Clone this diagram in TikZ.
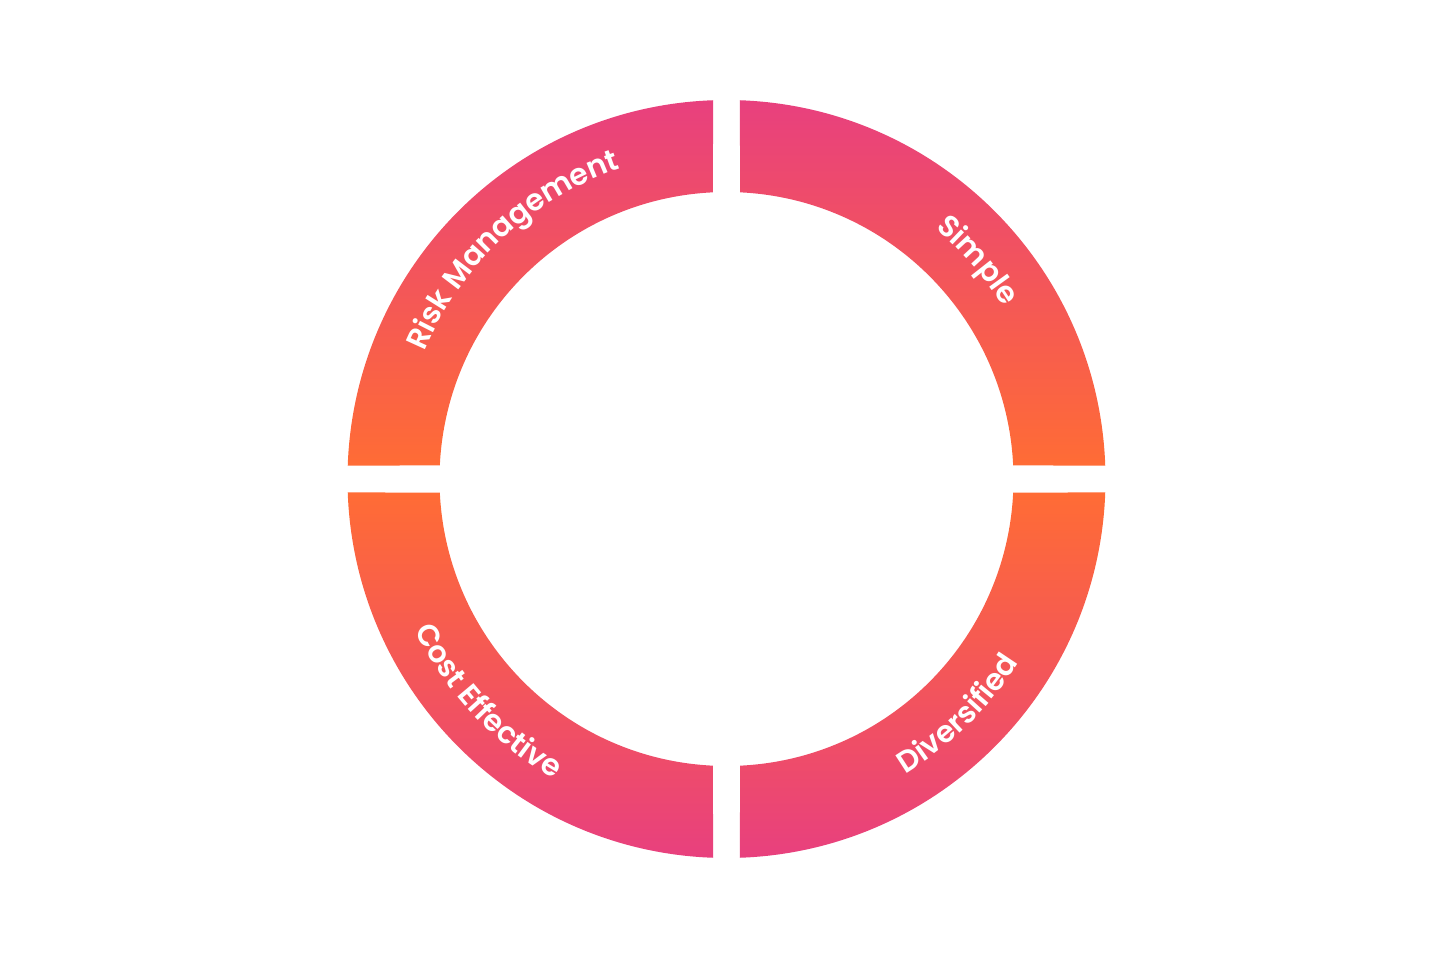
\documentclass[tikz,border=0pt]{standalone}
\usepackage{fontspec}
\setmainfont{Poppins}[BoldFont={* SemiBold}]
\usetikzlibrary{decorations.text}
\definecolor{segpink}{HTML}{E8407E}
\definecolor{segred}{HTML}{F8525C}
\definecolor{segorange}{HTML}{FF6C35}
\newcommand\lblfont{\fontsize{30}{34}\selectfont\bfseries\color{white}}

\begin{document}
\begin{tikzpicture}[x=1pt, y=1pt,
upper seg/.style={top color=segpink, middle color=segred, bottom color=segorange},
lower seg/.style={top color=segorange, middle color=segred, bottom color=segpink},
arc label/.style={decorate, decoration={text along path, text align=center,
text={|\lblfont|#1}}}]
\useasboundingbox (-726.5,-480) rectangle (724.5,479);
% ring segments
\shade [upper seg] (92.04:379) arc [start angle=92.04, end angle=177.96, radius=379]
-- (177.30:287) arc [start angle=177.30, end angle=92.70, radius=287] -- cycle;
\shade [upper seg] (87.96:379) arc [start angle=87.96, end angle=2.04, radius=379]
-- (2.70:287) arc [start angle=2.70, end angle=87.30, radius=287] -- cycle;
\shade [lower seg] (182.04:379) arc [start angle=182.04, end angle=267.96, radius=379]
-- (267.30:287) arc [start angle=267.30, end angle=182.70, radius=287] -- cycle;
\shade [lower seg] (272.04:379) arc [start angle=272.04, end angle=357.96, radius=379]
-- (357.30:287) arc [start angle=357.30, end angle=272.70, radius=287] -- cycle;
% labels
\path [arc label={Risk Management}] (173:328) arc [start angle=173, end angle=93, radius=328];
\path [arc label={Simple}] (81:326) arc [start angle=81, end angle=1, radius=326];
\path [arc label={Cost Effective}] (183:346) arc [start angle=183, end angle=263, radius=346];
\path [arc label={Diversified}] (274.5:345) arc [start angle=274.5, end angle=354.5, radius=345];
\end{tikzpicture}
\end{document}
